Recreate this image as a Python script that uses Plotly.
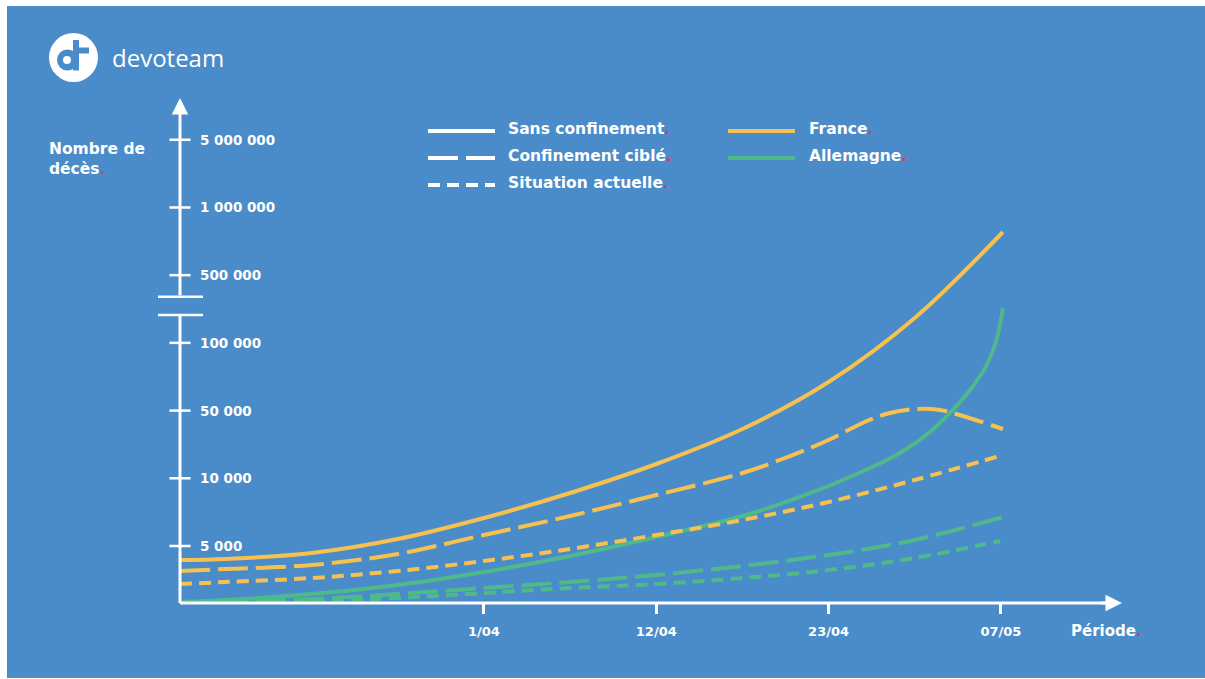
import plotly.graph_objects as go

# ---- Données -------------------------------------------------------------
# Axe des périodes : positions régulières des repères de dates
PERIODE_POS = [1, 2, 3, 4]
PERIODE_LABELS = ["1/04", "12/04", "23/04", "07/05"]

# Axe des décès : échelle par paliers (un palier par repère)
DECES_POS = [1, 2, 3, 4, 5, 6, 7]
DECES_LABELS = ["5 000", "10 000", "50 000", "100 000", "500 000", "1 000 000", "5 000 000"]

# France
FR_SANS_X = [-0.764, -0.5, 0, 0.5, 1, 1.5, 2, 2.5, 3, 3.5, 4.012]
FR_SANS_Y = [0.793, 0.808, 0.897, 1.103, 1.414, 1.783, 2.211, 2.728, 3.422, 4.368, 5.638]

FR_CIBLE_X = [-0.764, -0.5, 0, 0.5, 1, 1.5, 2, 2.5, 2.776, 3.0, 3.223, 3.356, 3.513, 3.647, 3.780, 4.012]
FR_CIBLE_Y = [0.631, 0.660, 0.719, 0.882, 1.162, 1.443, 1.753, 2.078, 2.329, 2.566, 2.846, 2.965, 3.024, 3.009, 2.920, 2.728]

FR_ACTUEL_X = [-0.764, -0.5, 0, 0.5, 1, 1.5, 2, 2.5, 3, 3.5, 4.012]
FR_ACTUEL_Y = [0.439, 0.468, 0.527, 0.631, 0.778, 0.956, 1.162, 1.384, 1.650, 1.975, 2.344]

# Allemagne
DE_SANS_X = [-0.764, -0.5, 0, 0.5, 1, 1.5, 2, 2.5, 2.834, 3.124, 3.414, 3.589, 3.705, 3.821, 3.908, 3.966, 4.012]
DE_SANS_Y = [0.173, 0.202, 0.291, 0.424, 0.616, 0.852, 1.133, 1.443, 1.724, 2.019, 2.374, 2.684, 2.965, 3.304, 3.629, 3.969, 4.515]

DE_CIBLE_X = [-0.764, -0.5, 0, 0.5, 1, 1.5, 2, 2.5, 3, 3.5, 4.012]
DE_CIBLE_Y = [0.158, 0.173, 0.217, 0.291, 0.380, 0.468, 0.572, 0.705, 0.867, 1.089, 1.428]

DE_ACTUEL_X = [-0.764, -0.5, 0, 0.5, 1, 1.5, 2, 2.5, 3, 3.5, 3.995]
DE_ACTUEL_Y = [0.158, 0.158, 0.188, 0.232, 0.306, 0.380, 0.439, 0.527, 0.645, 0.823, 1.074]

SCENARIOS = ["Sans confinement", "Confinement ciblé", "Situation actuelle"]
PAYS = ["France", "Allemagne"]

# ---- Style ---------------------------------------------------------------
W, H = 1205, 679
BLEU = "#4a8bc9"
BLANC = "#ffffff"
ORANGE = "#f6c14f"
VERT = "#4fb98b"
ROUGE = "#e23a62"
POLICE = "DejaVu Sans"

X_RANGE = [-0.764, 4.703]
Y_RANGE = [0.158, 7.617]
M_L, M_R, M_T, M_B = 180, 83, 98, 76
PLOT_W = W - M_L - M_R
PLOT_H = H - M_T - M_B

DASH = {
    "Sans confinement": "solid",
    "Confinement ciblé": "30px,8px",
    "Situation actuelle": "12px,7px",
}
COULEUR = {"France": ORANGE, "Allemagne": VERT}


def px_x(px):
    return (px - M_L) / PLOT_W


def px_y(py):
    return (H - M_B - py) / PLOT_H


def point_rouge(texte):
    return f"{texte}<span style='color:{ROUGE}'>.</span>"


fig = go.Figure()

series = [
    ("France", "Sans confinement", FR_SANS_X, FR_SANS_Y),
    ("France", "Confinement ciblé", FR_CIBLE_X, FR_CIBLE_Y),
    ("France", "Situation actuelle", FR_ACTUEL_X, FR_ACTUEL_Y),
    ("Allemagne", "Sans confinement", DE_SANS_X, DE_SANS_Y),
    ("Allemagne", "Confinement ciblé", DE_CIBLE_X, DE_CIBLE_Y),
    ("Allemagne", "Situation actuelle", DE_ACTUEL_X, DE_ACTUEL_Y),
]
# Allemagne drawn first so the French curves sit on top
for pays, scen, xs, ys in sorted(series, key=lambda s: s[0] == "France"):
    fig.add_trace(go.Scatter(
        x=xs, y=ys, mode="lines", name=f"{pays} – {scen}",
        line=dict(color=COULEUR[pays], width=4, dash=DASH[scen], shape="spline", smoothing=1.0),
        cliponaxis=False, showlegend=False, hoverinfo="skip",
    ))

# Y-axis tick marks crossing the axis line
fig.add_trace(go.Scatter(
    x=[X_RANGE[0]] * len(DECES_POS), y=DECES_POS, mode="markers",
    marker=dict(symbol="line-ew-open", size=15, color=BLANC, line=dict(color=BLANC, width=2.5)),
    cliponaxis=False, showlegend=False, hoverinfo="skip",
))

shapes = []
# blue panel
shapes.append(dict(type="rect", xref="paper", yref="paper",
                   x0=px_x(7), x1=px_x(1206), y0=px_y(678), y1=px_y(6),
                   fillcolor=BLEU, line=dict(width=0), layer="below"))

# axes (with a break on the vertical one)
Y_COUPURE_BAS, Y_COUPURE_HAUT = 4.41, 4.68
shapes.append(dict(type="line", xref="paper", yref="paper", x0=0, x1=px_x(1106), y0=0, y1=0,
                   line=dict(color=BLANC, width=3)))
shapes.append(dict(type="line", xref="paper", yref="y", x0=0, x1=0, y0=Y_RANGE[0], y1=Y_COUPURE_BAS,
                   line=dict(color=BLANC, width=3)))
for yc in (Y_COUPURE_BAS, Y_COUPURE_HAUT):
    shapes.append(dict(type="line", xref="paper", yref="y", x0=px_x(158), x1=px_x(203), y0=yc, y1=yc,
                       line=dict(color=BLANC, width=2.5)))

# legend samples
leg_y = [131, 158, 185]
for scen, ly in zip(SCENARIOS, leg_y):
    shapes.append(dict(type="line", xref="paper", yref="paper",
                       x0=px_x(428), x1=px_x(495), y0=px_y(ly), y1=px_y(ly),
                       line=dict(color=BLANC, width=4, dash=DASH[scen])))
for pays, ly in zip(PAYS, leg_y):
    shapes.append(dict(type="line", xref="paper", yref="paper",
                       x0=px_x(728), x1=px_x(795), y0=px_y(ly), y1=px_y(ly),
                       line=dict(color=COULEUR[pays], width=4)))

# logo
shapes.append(dict(type="circle", xref="paper", yref="paper",
                   x0=px_x(49), x1=px_x(98), y0=px_y(82), y1=px_y(33),
                   fillcolor=BLANC, line=dict(width=0)))
shapes.append(dict(type="circle", xref="paper", yref="paper",
                   x0=px_x(57), x1=px_x(78), y0=px_y(70.5), y1=px_y(49.5),
                   fillcolor=BLEU, line=dict(width=0)))
shapes.append(dict(type="circle", xref="paper", yref="paper",
                   x0=px_x(63), x1=px_x(71), y0=px_y(64), y1=px_y(56),
                   fillcolor=BLANC, line=dict(width=0)))
shapes.append(dict(type="rect", xref="paper", yref="paper",
                   x0=px_x(73), x1=px_x(79), y0=px_y(70.5), y1=px_y(40),
                   fillcolor=BLEU, line=dict(width=0)))
shapes.append(dict(type="rect", xref="paper", yref="paper",
                   x0=px_x(73), x1=px_x(89), y0=px_y(53.5), y1=px_y(47.5),
                   fillcolor=BLEU, line=dict(width=0)))

annotations = []
# axis arrowheads
annotations.append(dict(xref="paper", yref="paper", x=1, y=0, ax=-22, ay=0, axref="pixel", ayref="pixel",
                        showarrow=True, arrowhead=2, arrowsize=1.1, arrowwidth=3, arrowcolor=BLANC,
                        standoff=0, text=""))
fleche_y = (Y_RANGE[1] - Y_COUPURE_HAUT) * PLOT_H / (Y_RANGE[1] - Y_RANGE[0])
annotations.append(dict(xref="paper", yref="paper", x=0, y=1, ax=0, ay=fleche_y,
                        axref="pixel", ayref="pixel",
                        showarrow=True, arrowhead=2, arrowsize=1.1, arrowwidth=3, arrowcolor=BLANC,
                        standoff=0, text=""))

txt = dict(family=POLICE, size=13.5, color=BLANC, weight=700)
for pos, lab in zip(DECES_POS, DECES_LABELS):
    annotations.append(dict(xref="paper", yref="y", x=0, y=pos, xshift=18, xanchor="left", yanchor="middle",
                            text=lab, showarrow=False, font=txt))

leg_font = dict(family=POLICE, size=15.5, color=BLANC, weight=700)
for scen, ly in zip(SCENARIOS, leg_y):
    annotations.append(dict(xref="paper", yref="paper", x=px_x(506), y=px_y(ly - 2), xanchor="left",
                            yanchor="middle", text=point_rouge(scen), showarrow=False, font=leg_font))
for pays, ly in zip(PAYS, leg_y):
    annotations.append(dict(xref="paper", yref="paper", x=px_x(807), y=px_y(ly - 2), xanchor="left",
                            yanchor="middle", text=point_rouge(pays), showarrow=False, font=leg_font))

annotations.append(dict(xref="paper", yref="paper", x=px_x(47), y=px_y(159), xanchor="left", yanchor="middle",
                        text="Nombre de<br>" + point_rouge("décès"), align="left", showarrow=False,
                        font=dict(family=POLICE, size=15.5, color=BLANC, weight=700)))
annotations.append(dict(xref="paper", yref="paper", x=px_x(1069), y=px_y(631), xanchor="left", yanchor="middle",
                        text=point_rouge("Période"), showarrow=False,
                        font=dict(family=POLICE, size=15, color=BLANC, weight=700)))
annotations.append(dict(xref="paper", yref="paper", x=px_x(110), y=px_y(58), xanchor="left", yanchor="middle",
                        text="devoteam", showarrow=False,
                        font=dict(family="Open Sans", size=24, color=BLANC, weight=400)))

fig.update_layout(
    width=W, height=H,
    margin=dict(l=M_L, r=M_R, t=M_T, b=M_B),
    paper_bgcolor=BLANC, plot_bgcolor=BLEU,
    xaxis=dict(range=X_RANGE, showgrid=False, zeroline=False, showline=False,
               tickvals=PERIODE_POS, ticktext=PERIODE_LABELS,
               ticks="outside", ticklen=10, tickwidth=2.5, tickcolor=BLANC,
               ticklabelstandoff=6,
               tickfont=dict(family=POLICE, size=13, color=BLANC, weight=700)),
    yaxis=dict(range=Y_RANGE, visible=False),
    shapes=shapes, annotations=annotations,
    showlegend=False,
)

fig.write_html("out.html")
